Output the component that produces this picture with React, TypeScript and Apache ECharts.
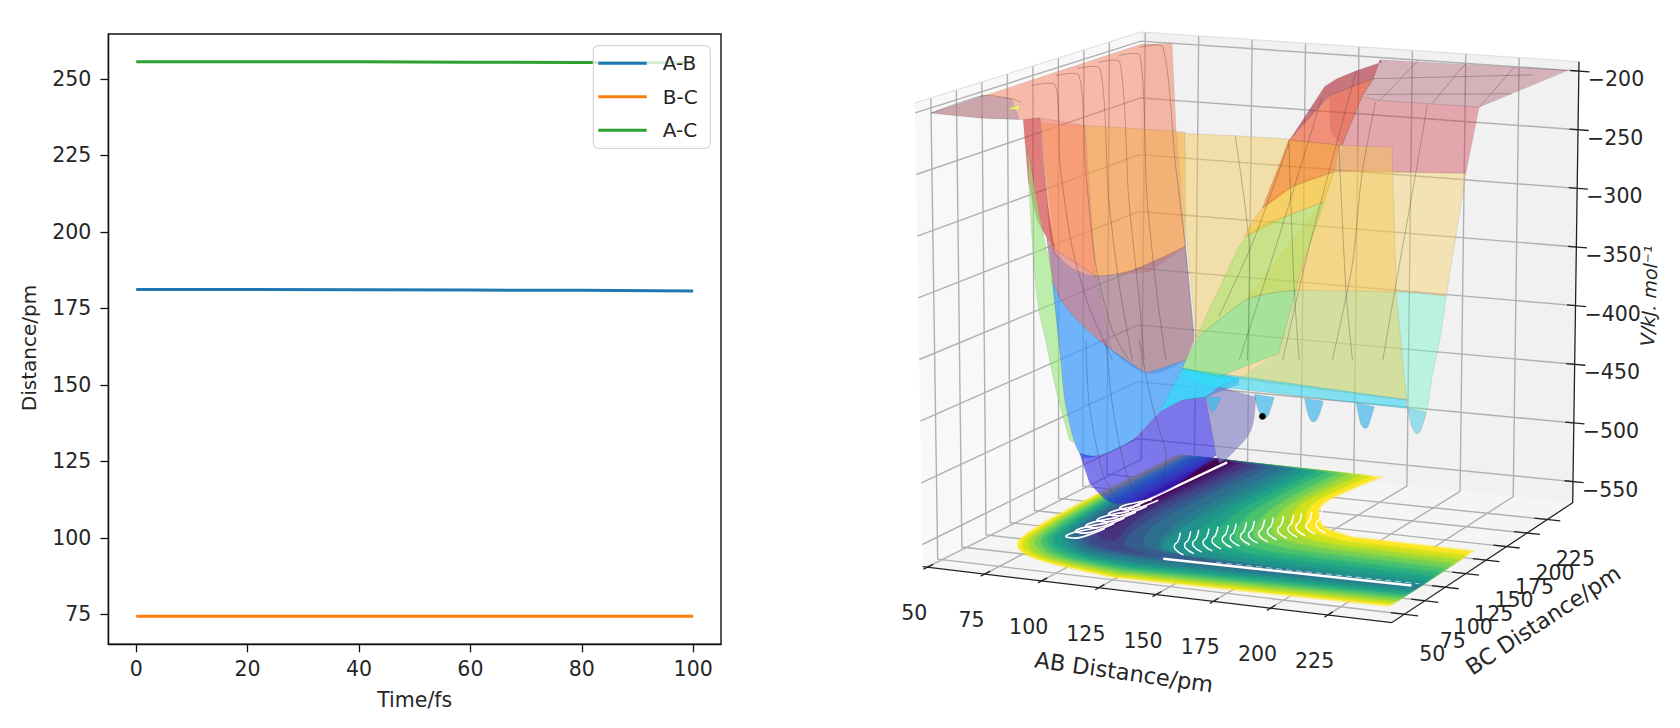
import React, { useEffect, useRef } from "react";
import * as echarts from "echarts";

// ---------- left chart ----------
const timeFs = [0, 20, 40, 60, 80, 100];
const distAB = [181.2, 181.2, 181.1, 181.0, 180.9, 180.7];
const distBC = [74.4, 74.4, 74.4, 74.4, 74.4, 74.4];
const distAC = [255.6, 255.6, 255.6, 255.5, 255.4, 255.3];
const distanceTicks = [75, 100, 125, 150, 175, 200, 225, 250];

// ---------- 3D axes ----------
const abTicks = [50, 75, 100, 125, 150, 175, 200, 225];
const bcTicks = [50, 75, 100, 125, 150, 175, 200, 225];
const vTicks = [-200, -250, -300, -350, -400, -450, -500, -550];
const abRange = [48, 253];
const bcRange = [34.5, 256];
const vRange = [-568, -192];
const contourPlaneV = -560;

// ---------- surface sheets, each vertex is [AB, BC, V] ----------
const plateauRight = [[160,256,-202],[248,256,-200],[252,145,-195],[207,145,-196],[199,145,-194],[179,205,-200]];
const roseSheet = [[199,145,-194],[207,145,-196],[252,145,-195],[246,145,-250],[186.3,145,-258],[190,145,-235.5]];
const tanSheet = [[186.3,145,-258],[199,145,-255],[246,145,-250],[237,145,-352],[215.8,145,-352.4],[169,145,-359],[156.8,145,-363.8],[146.3,145,-371],[180.9,145,-283.8]];
const aquaSheet = [[169,145,-359],[215.8,145,-352.4],[237,145,-352],[234,145,-389],[230.8,145,-416.8],[227.9,145,-449],[223.6,145,-467.5],[219.5,145,-447.6],[219,145,-441],[143,145,-436.6],[161,145,-412.8]];
const yellowSheet = [[115,145,-237],[140,145,-235],[166,145,-234],[189.5,145,-235.6],[212.6,145,-233.7],[214.4,145,-353.6],[219,145,-441],[134,145,-437],[117.4,145,-433],[119,145,-426],[123.8,145,-406]];
const salmonSheet = [[55,34.5,-199],[52,248,-200],[63,255,-200],[115,145,-237],[119,145,-331],[102.5,145,-355],[78.4,145,-363],[60,145,-344],[53.4,145,-233.6],[55,125,-229],[55,83,-216]];
const mauveTip = [[55,34.5,-199],[52.7,90.7,-200],[66,89,-200],[55,121,-228],[55,83,-216]];
const yellowTip = [[55,109,-216],[55,121,-215.5],[55,121.5,-220]];
const orangeSheet = [[54,145,-238.6],[72,145,-237],[94.7,145,-236],[119,145,-235.4],[119,145,-331],[103.8,145,-346.6],[92,145,-357],[78.3,145,-362.7],[69.2,145,-359.6],[63,145,-352],[58.6,145,-341.8],[56.4,145,-300]];
const orangeDeep = [[53.4,145,-233.6],[73.8,145,-237],[78.3,145,-362.7],[69.2,145,-359.6],[63,145,-352],[58.6,145,-341.8],[56.4,145,-300]];
const redWedge = [[55,125,-229],[53.4,145,-233.6],[56.4,145,-300],[60,145,-344],[56.2,145,-333.8],[51.7,145,-317.7],[48,145,-287.4]];
const mauveSheet = [[56.2,145,-334],[58.6,145,-341.8],[63,145,-352],[69.2,145,-359.6],[78.3,145,-362.7],[92,145,-357],[103.8,145,-346.6],[119,145,-331],[122.8,145,-408.6],[119,145,-426],[101,145,-440],[79.8,145,-416.4],[64.7,145,-391],[58.6,145,-369.8]];
const mauveTint = [[58.6,145,-341.8],[78.3,145,-362.7],[85.7,145,-424],[79.8,145,-416.4],[64.7,145,-391],[58.6,145,-369.8]];
const greenEdge = [[55,129,-253],[50.8,145,-292.6],[55.6,145,-339.4],[59.4,145,-372.4],[62.4,145,-436.4],[64.7,145,-475.3],[68.5,145,-505],[66.2,145,-503],[60.2,145,-462],[55.6,145,-421],[51.7,145,-385],[48.5,145,-304]];
const blueSheet = [[58.6,145,-369.8],[64.7,145,-391],[79.8,145,-416.4],[101,145,-440],[119,145,-426],[117.4,145,-433],[143,145,-436.6],[143,145,-441.6],[128,145,-455],[117.4,145,-459.7],[107,145,-472.5],[94.7,145,-497.3],[79.8,145,-513],[70.7,145,-513],[64.7,145,-475.3],[62.4,145,-436.4]];
const violetSheet = [[70.7,145,-513],[79.8,145,-513],[94.7,145,-497.3],[107,145,-472.5],[117.4,145,-459.7],[128,145,-455],[132.7,145,-502.7],[112.9,145,-533.2],[99.3,145,-546.8],[88.9,145,-551.7],[82.8,145,-550],[75.3,145,-537.6]];
const lavenderSheet = [[128,145,-455],[132.7,145,-502.7],[134.2,145,-509.3],[140,145,-499.6],[148.5,145,-478.8],[150.8,145,-450.7],[134,145,-445.5]];
const wellZero = [[128.2,145,-454.3],[129.7,145,-463.8],[131.1,145,-466.9],[132.8,145,-463],[134.9,145,-454.3]];
const wellOne = [[150,145,-448.7],[151.4,145,-459.5],[153,145,-466],[154.6,145,-468],[156.2,145,-465.3],[157.7,145,-457.8],[159.1,145,-449.5]];
const wellTwo = [[172.7,145,-448],[174.1,145,-459.4],[175.4,145,-465.2],[176.9,145,-466.6],[178.4,145,-464.4],[180,145,-457],[181.3,145,-448.6]];
const wellThree = [[196.1,145,-447],[197.6,145,-460.8],[199,145,-466.6],[200.2,145,-467.6],[201.5,145,-465.8],[203,145,-457.5],[204.4,145,-449]];
const wellFour = [[219.5,145,-447],[220.8,145,-460],[222.1,145,-465.6],[223.6,145,-467.5],[225.1,145,-465.6],[226.6,145,-457.4],[227.9,145,-449.7]];
const cyanBand = [[117.4,145,-433],[218.8,145,-440.4],[218.8,145,-447.8],[134,145,-445.5],[120,145,-444]];
const cyanPatch = [[117.4,145,-433],[107,145,-471.5],[117.4,145,-459.7],[128,145,-455],[134,145,-445.5],[143,145,-436.6]];
const mintSheet = [[119,145,-426],[125.1,145,-405.5],[134,145,-390],[146.3,145,-371],[156.8,145,-363.8],[169,145,-359],[161,145,-412.8],[134,145,-437],[117.4,145,-433]];
const limeSheet = [[123.8,145,-406],[143.2,145,-327.3],[152.3,145,-309.2],[181.8,145,-283.7],[170.4,145,-347.7],[169,145,-359],[156.8,145,-363.8],[146.3,145,-371],[134,145,-390],[125.1,145,-405.5]];
const goldSheet = [[145.5,145,-318.6],[153.8,145,-293.7],[167.4,145,-273.4],[186.3,145,-258],[181.8,145,-283.7],[165.9,145,-297.3],[152.3,145,-311.9]];
const amberSheet = [[153.8,145,-293.7],[165.9,145,-235],[189.3,145,-235.6],[186.3,145,-258],[167.4,145,-273.4]];
const coralSheet = [[165.9,145,-235],[178.8,158.5,-200],[179,205,-200],[199,145,-194.2],[190,145,-235.5]];
const coralEdge = [[178.8,158.5,-200],[179,205,-200],[199,145,-194.2],[190,145,-235.5],[185,145,-225]];
const crimsonCap = [[166.7,145,-233.6],[168,178.5,-200],[165,198.4,-200],[164.4,220.6,-200],[165.4,245,-200],[160,256,-202],[179,205,-200],[178.8,158.5,-200]];

// thin surface edges, [AB, BC, V]
const edgeLines = [
  [[59,125,-200],[67,130.6,-200],[62.4,145,-271],[67.7,145,-340],[75.3,145,-389],[85.8,145,-432]],
  [[56.5,154.3,-200],[64.5,159.4,-200],[73.8,145,-269],[78.3,145,-352],[85.8,145,-407],[93.4,145,-431]],
  [[56.4,175.6,-200],[64.7,180,-200],[84.3,145,-295],[88.9,145,-367],[94.9,145,-431]],
  [[57.2,195.3,-200],[64.5,200,-200],[93.4,145,-294],[97.9,145,-377],[100.2,145,-429.5]],
  [[56.9,215.6,-200],[64.3,220.3,-200],[101.7,145,-292.5],[106.2,145,-375.4],[110,145,-427.6]],
  [[55,239.7,-200],[63.4,245,-200],[114.6,145,-262.5],[119,145,-331],[122.8,145,-406]],
  [[55,34.5,-199],[52.7,90.7,-200],[66,89,-200],[73,83,-200]],
  [[141.7,145,-235],[147.8,145,-323.5],[146.9,145,-421]],
  [[165.9,145,-235],[168.2,145,-359],[170.4,145,-416.7]],
  [[188.6,145,-235.8],[191.6,145,-355],[194.5,145,-412.3]],
  [[205.2,145,-197.4],[199,145,-257.4],[194.6,145,-332.5],[185.4,145,-414]],
  [[228.6,145,-196.7],[223.3,145,-253.7],[214.3,145,-345.7],[208.2,145,-410]],
  [[82.8,145,-416],[85.8,145,-471],[91.9,145,-526],[97.9,145,-547]],
  [[97.9,145,-413],[104,145,-468],[110,145,-508],[107,145,-537]],
  [[73.8,145,-418],[75.3,145,-473],[81.3,145,-528],[87.4,145,-549]],
  [[134,145,-387],[149.3,145,-323.5],[165.9,145,-237.8]],
  [[143.2,145,-421.6],[159.9,145,-324.6],[181,145,-197]],
  [[162.9,145,-418],[175,145,-322],[164.4,220.6,-200]],
  [[207,145,-196],[178,256,-200]],
  [[230.8,145,-195],[200,256,-200]],
  [[252,145,-195],[223,256,-200]],
  [[179,205,-200],[238,240,-200]],
  [[191.5,167.4,-200],[247,194,-200]],
];

const trajectoryPoint = [181, 74, -434];

// ---------- floor contours, outermost first, each vertex is [AB, BC] ----------
const contourRings = [
  [[68.5,253],[67,173],[68,110],[73.6,73.5],[92,52.8],[129,39],[248,45],[248,146],[194,147],[180,155],[171,167],[159.5,200],[164,250]],
  [[69.5,253],[68,173],[70,110],[75,75],[93,55],[129,42],[248,49],[248,138],[194,139],[178,146],[167,160],[155.5,197],[159,250]],
  [[70.5,253],[69.5,173],[71.5,110],[77,77],[94,57.5],[129,45.5],[248,53],[248,130],[194,131],[176,137],[163,152],[151,193],[154,250]],
  [[72,253],[71,173],[73,110],[79,79],[96,60],[129,49],[248,57],[248,122],[194,123],[173,128],[158,144],[147,189],[149,250]],
  [[73,253],[72.5,173],[75,110],[81,81],[98,62.5],[129,52.5],[248,61],[248,114],[194,115],[170,119],[153,135],[142.5,184],[144,250]],
  [[74.5,253],[74,173],[77,110],[83,83],[100,65],[129,56],[248,65],[248,106],[194,107],[167,110],[148,126],[137,178],[139,250]],
  [[76,253],[75.5,173],[79,110],[85,85],[102,68],[129,60],[248,69],[248,98],[194,99],[163,102],[142,117],[132,172],[134,250]],
  [[77.5,253],[77,173],[81,110],[88,87],[104,70.5],[129,64],[248,73],[248,90],[194,91],[158,94],[135,108],[127,165],[129,250]],
  [[79,253],[78.5,173],[83,110],[90,89],[106,73],[129,68],[248,77],[248,83],[194,84],[150,86],[128,96],[121,150],[124,250]],
  [[80.5,253],[80,173],[85,110],[92,91],[110,77],[170,76],[210,80],[170,84],[130,92],[118,130],[115,170],[119,250]],
  [[82,253],[82,173],[87,112],[93,95],[105,82],[130,78],[165,80],[130,88],[118,100],[110,130],[108,170],[113,250]],
  [[83.5,253],[84,173],[89,115],[94,100],[102,88],[125,82],[112,94],[105,125],[103,170],[108,250]],
  [[85,253],[85.5,173],[90,120],[95,107],[105,100],[100,130],[98,170],[103,250]],
  [[86,253],[87,173],[91,130],[95,118],[95,170],[98,250]],
  [[87,253],[88,173],[92,145],[92,170],[94,250]],
];
const contourColors = ["#fde725","#d0e11c","#a0da39","#73d056","#4ac16d","#2db27d","#1fa187","#21918c","#277f8e","#2e6e8e","#365c8d","#3f4788","#46327e","#481d6f","#440154"];
const valleyGaps = [
  [[136,78],[245,81]],
  [[89,154],[93,250]],
];
const faintGaps = [[[158,82],[247,85]]];
const hairpinBC = [95, 105, 116, 128, 140, 152];
const scallopAB = [131,134,136,139,141,144,146,149,151,154,156,159,162,164,167,170];
const scallopBC = [103,107,111,115,120,124,128,132,136,140,145,149,153,157,161,165];

// ---------- geometry of the drawn box, corners as [x, y] on the page ----------
const floorCorners = { a: [922.7, 566.7], b: [1391.7, 622.7], c: [1572.7, 502.7], d: [1137, 459] };
const roofCorners = { a: [915, 103], b: [1384, 145.5], c: [1579, 61.7], d: [1141, 32] };

function bilinear(q: any, u: number, v: number) {
  const out = [0, 0];
  for (let i = 0; i < 2; i++) {
    out[i] = q.a[i] * (1 - u) * (1 - v) + q.b[i] * u * (1 - v) + q.c[i] * u * v + q.d[i] * (1 - u) * v;
  }
  return out;
}
function project(ab: number, bc: number, val: number) {
  const u = echarts.number.linearMap(ab, abRange, [0, 1]);
  const v = echarts.number.linearMap(bc, bcRange, [0, 1]);
  const w = echarts.number.linearMap(val, vRange, [0, 1]);
  const f = bilinear(floorCorners, u, v);
  const r = bilinear(roofCorners, u, v);
  return [f[0] + (r[0] - f[0]) * w, f[1] + (r[1] - f[1]) * w];
}

// drawing helper: rounds the outline between vertices i..j on screen
function rounded(pts: number[][], spans: number[][]) {
  const out: number[][] = [];
  let k = 0;
  while (k < pts.length) {
    const span = spans.find((s) => s[0] === k);
    if (!span) { out.push(pts[k]); k++; continue; }
    const [i, j] = span;
    for (let s = i; s < j; s++) {
      const p0 = pts[Math.max(s - 1, i)], p1 = pts[s], p2 = pts[s + 1], p3 = pts[Math.min(s + 2, j)];
      for (let n = 0; n < 8; n++) {
        const t = n / 8, t2 = t * t, t3 = t2 * t;
        out.push([0, 1].map((c) => 0.5 * (2 * p1[c] + (p2[c] - p0[c]) * t + (2 * p0[c] - 5 * p1[c] + 4 * p2[c] - p3[c]) * t2 + (3 * p1[c] - p0[c] - 3 * p2[c] + p3[c]) * t3)));
      }
    }
    k = j;
    if (!spans.find((s) => s[0] === k)) { out.push(pts[k]); k++; }
  }
  return out;
}

const FONT = "DejaVu Sans";
const INK = "#262626";
const GRIDC = "#b0b0b0";

function buildMarks() {
  const m: any[] = [];
  const [a0, a1] = abRange;
  const [b0, b1] = bcRange;
  const [z0, z1] = vRange;
  const poly = (pts: number[][], fill: string, extra: any = {}) =>
    m.push({ type: "polygon", shape: { points: pts }, style: { fill, stroke: extra.stroke || "none", lineWidth: extra.lw || 0 } });
  const line = (pts: number[][], stroke: string, lineWidth: number, smooth = 0, dash?: number[]) =>
    m.push({ type: "polyline", shape: { points: pts, smooth }, style: { stroke, lineWidth, fill: "none", lineDash: dash } });
  const txt = (x: number, y: number, text: string, o: any = {}) =>
    m.push({ type: "text", x, y, rotation: o.rot || 0, style: { text, fontSize: o.size || 20.5, fontFamily: FONT, fontStyle: o.italic ? "italic" : "normal", fill: INK, align: o.align || "center", verticalAlign: "middle" } });

  // panes
  poly([project(a0,b0,z0),project(a0,b1,z0),project(a0,b1,z1),project(a0,b0,z1)], "#f8f8f8");
  poly([project(a0,b1,z0),project(a1,b1,z0),project(a1,b1,z1),project(a0,b1,z1)], "#f1f1f1");
  poly([project(a0,b0,z0),project(a1,b0,z0),project(a1,b1,z0),project(a0,b1,z0)], "#f5f5f5");

  // grid
  abTicks.forEach((t) => line([project(t,b0,z0),project(t,b1,z0),project(t,b1,z1)], GRIDC, 1.4));
  bcTicks.forEach((t) => line([project(a1,t,z0),project(a0,t,z0),project(a0,t,z1)], GRIDC, 1.4));
  vTicks.forEach((t) => line([project(a0,b0,t),project(a0,b1,t),project(a1,b1,t)], GRIDC, 1.4));
  line([project(a0,b0,z1),project(a0,b1,z1),project(a1,b1,z1)], "#dcdcdc", 1);

  // floor contours
  const ringP = (r: number[][]) => r.map((p) => project(p[0], p[1], contourPlaneV));
  contourRings.forEach((r, i) => {
    const spans = i < 9 ? [[0, 5], [8, 12]] : [[0, r.length - 1]];
    poly(rounded(ringP(r), spans), contourColors[i], { stroke: contourColors[i] + "80", lw: 3 });
  });
  scallopAB.forEach((a, i) => {
    const b = scallopBC[i];
    line(ringP([[a - 6, b + 21], [a - 1, b + 6], [a, b], [a + 3, b - 7], [a + 10, b - 15]]), "#ffffff", 1.5, 0.5);
  });
  hairpinBC.forEach((b) => line(ringP([[91,b+22],[85.5,b+10],[85,b+2],[88,b],[91,b+2],[93,b+12],[94,b+22]]), "#ffffff", 1.7, 0.5));
  valleyGaps.forEach((g) => line(ringP(g), "#ffffff", 2.4));
  faintGaps.forEach((g) => line(ringP(g), "rgba(255,255,255,0.7)", 0.9, 0, [6, 4]));

  // surface sheets, back to front
  const sheet = (s: number[][], fill: string, spans: number[][] = []) =>
    poly(rounded(s.map((p) => project(p[0], p[1], p[2])), spans), fill, { stroke: "rgba(70,60,60,0.18)", lw: 0.6 });
  sheet(plateauRight, "rgba(160,60,80,0.35)");
  sheet(aquaSheet, "rgba(102,245,202,0.4)", [[2, 7]]);
  sheet(roseSheet, "rgba(205,45,60,0.38)");
  sheet(tanSheet, "rgba(245,205,90,0.4)", [[3, 7]]);
  sheet(yellowSheet, "rgba(245,200,80,0.45)");
  [wellOne, wellTwo, wellThree].forEach((w) => sheet(w, "rgba(70,185,235,0.72)", [[0, 6]]));
  sheet(wellFour, "rgba(100,195,240,0.42)", [[0, 6]]);
  sheet(salmonSheet, "rgba(246,111,74,0.45)");
  sheet(mauveTip, "rgba(150,140,170,0.45)");
  sheet(yellowTip, "rgba(225,245,120,0.95)");
  sheet(orangeSheet, "rgba(245,170,60,0.45)", [[4, 11]]);
  sheet(orangeDeep, "rgba(250,120,120,0.35)", [[2, 6]]);
  sheet(redWedge, "rgba(210,60,60,0.65)", [[1, 3], [3, 6]]);
  sheet(mauveSheet, "rgba(159,116,131,0.7)", [[0, 7], [9, 13]]);
  sheet(mauveTint, "rgba(180,110,190,0.25)", [[0, 1], [2, 5]]);
  sheet(greenEdge, "rgba(150,230,120,0.6)", [[0, 6], [7, 11]]);
  sheet(blueSheet, "rgba(65,158,252,0.75)", [[0, 3], [8, 15]]);
  sheet(violetSheet, "rgba(45,37,228,0.6)", [[0, 5], [6, 11]]);
  sheet(lavenderSheet, "rgba(120,120,190,0.6)", [[2, 5]]);
  sheet(wellZero, "rgba(70,185,235,0.8)", [[0, 4]]);
  sheet(cyanBand, "rgba(60,215,240,0.62)");
  sheet(cyanPatch, "rgba(40,225,250,0.62)");
  sheet(mintSheet, "rgba(90,230,140,0.5)", [[0, 5]]);
  sheet(limeSheet, "rgba(120,235,80,0.35)", [[1, 3], [5, 9]]);
  sheet(goldSheet, "rgba(250,190,20,0.45)", [[0, 3], [4, 6]]);
  sheet(amberSheet, "rgba(245,110,20,0.55)");
  sheet(coralSheet, "rgba(240,80,40,0.6)");
  sheet(coralEdge, "rgba(200,50,60,0.2)");
  sheet(crimsonCap, "rgba(175,40,55,0.62)");

  edgeLines.forEach((l) => line(l.map((p) => project(p[0], p[1], p[2])), "rgba(60,55,55,0.4)", 0.8, 0.25));

  const dot = project(trajectoryPoint[0], trajectoryPoint[1], trajectoryPoint[2]);
  m.push({ type: "circle", shape: { cx: dot[0] + 3, cy: dot[1], r: 3.4 }, style: { fill: "#000" } });

  // axes
  line([project(a0,b0,z0),project(a1,b0,z0),project(a1,b1,z0),project(a1,b1,z1)], "#222", 1.3);
  abTicks.forEach((t) => {
    line([project(t,b0-4,z0),project(t,b0+6,z0)], "#222", 1.3);
    const p = project(t,b0,z0);
    txt(p[0] - 13, p[1] + 46, String(t));
  });
  bcTicks.forEach((t) => {
    line([project(a1-6,t,z0),project(a1+6,t,z0)], "#222", 1.3);
    const p = project(a1,t,z0);
    txt(p[0] + 28, p[1] + 40, String(t));
  });
  vTicks.forEach((t) => {
    line([project(a1-4,b1,t),project(a1+5,b1,t)], "#222", 1.3);
    const p = project(a1,b1,t);
    txt(p[0] + 9, p[1] + 8, "\u2212" + Math.abs(t), { align: "left" });
  });
  txt(1124, 672, "AB Distance/pm", { rot: -0.14, size: 22.5 });
  txt(1543, 620, "BC Distance/pm", { rot: 0.58, size: 22.5 });
  txt(1649, 296, "V/kJ. mol\u207B\u00B9", { rot: 1.53, size: 19, italic: true });
  txt(29, 348, "Distance/pm", { rot: Math.PI / 2, size: 20 });
  return m;
}

export default function App() {
  const ref = useRef<HTMLDivElement>(null);
  useEffect(() => {
    document.body.style.margin = "0";
    const chart = echarts.init(ref.current!, undefined, { renderer: "svg" });
    const marks = buildMarks();
    const axisFont = { fontFamily: FONT, fontSize: 20.5, color: INK };
    chart.setOption({
      animation: false,
      backgroundColor: "#ffffff",
      grid: { left: 108.4, top: 34, width: 612.6, height: 610.3, show: true, borderColor: "#111", borderWidth: 1.4, backgroundColor: "transparent" },
      xAxis: {
        type: "value", min: -5, max: 105, name: "Time/fs", nameLocation: "middle", nameGap: 45,
        nameTextStyle: { ...axisFont },
        axisLine: { onZero: false, lineStyle: { color: "#111", width: 1.4 } },
        axisTick: { length: 8, customValues: timeFs, lineStyle: { color: "#111", width: 1.3 } },
        axisLabel: { ...axisFont, margin: 14, customValues: timeFs },
        splitLine: { show: false },
      },
      yAxis: {
        type: "value", min: 65.2, max: 264.7,
        axisLine: { onZero: false, lineStyle: { color: "#111", width: 1.4 } },
        axisTick: { length: 8, customValues: distanceTicks, lineStyle: { color: "#111", width: 1.3 } },
        axisLabel: { ...axisFont, margin: 17, customValues: distanceTicks },
        splitLine: { show: false },
      },
      legend: {
        data: ["A-B", "B-C", "A-C"], orient: "vertical", left: 593.3, top: 45.7,
        backgroundColor: "rgba(255,255,255,0.8)", borderColor: "#d4d4d4", borderWidth: 1.2, borderRadius: 5,
        padding: [7.6, 12.7, 8, 5], itemWidth: 48.4, itemHeight: 20, itemGap: 13.5,
        icon: "path://M0 0H48V3H0Z",
        textStyle: { fontFamily: FONT, fontSize: 20, color: INK, padding: [0, 0, 0, 11] },
      },
      series: [
        { name: "A-B", type: "line", data: timeFs.map((t, i) => [t, distAB[i]]), showSymbol: false, itemStyle: { color: "#1f77b4" }, lineStyle: { color: "#1f77b4", width: 3 } },
        { name: "B-C", type: "line", data: timeFs.map((t, i) => [t, distBC[i]]), showSymbol: false, itemStyle: { color: "#ff7f0e" }, lineStyle: { color: "#ff7f0e", width: 3 } },
        { name: "A-C", type: "line", data: timeFs.map((t, i) => [t, distAC[i]]), showSymbol: false, itemStyle: { color: "#2ca02c" }, lineStyle: { color: "#2ca02c", width: 3 } },
        {
          type: "custom", coordinateSystem: "none", silent: true, clip: false,
          data: marks.map((_, i) => i),
          renderItem: (params: any) => marks[params.dataIndex],
        },
      ],
    });
    return () => chart.dispose();
  }, []);
  return <div ref={ref} style={{ position: "fixed", left: 0, top: 0, width: 1680, height: 728 }} />;
}
